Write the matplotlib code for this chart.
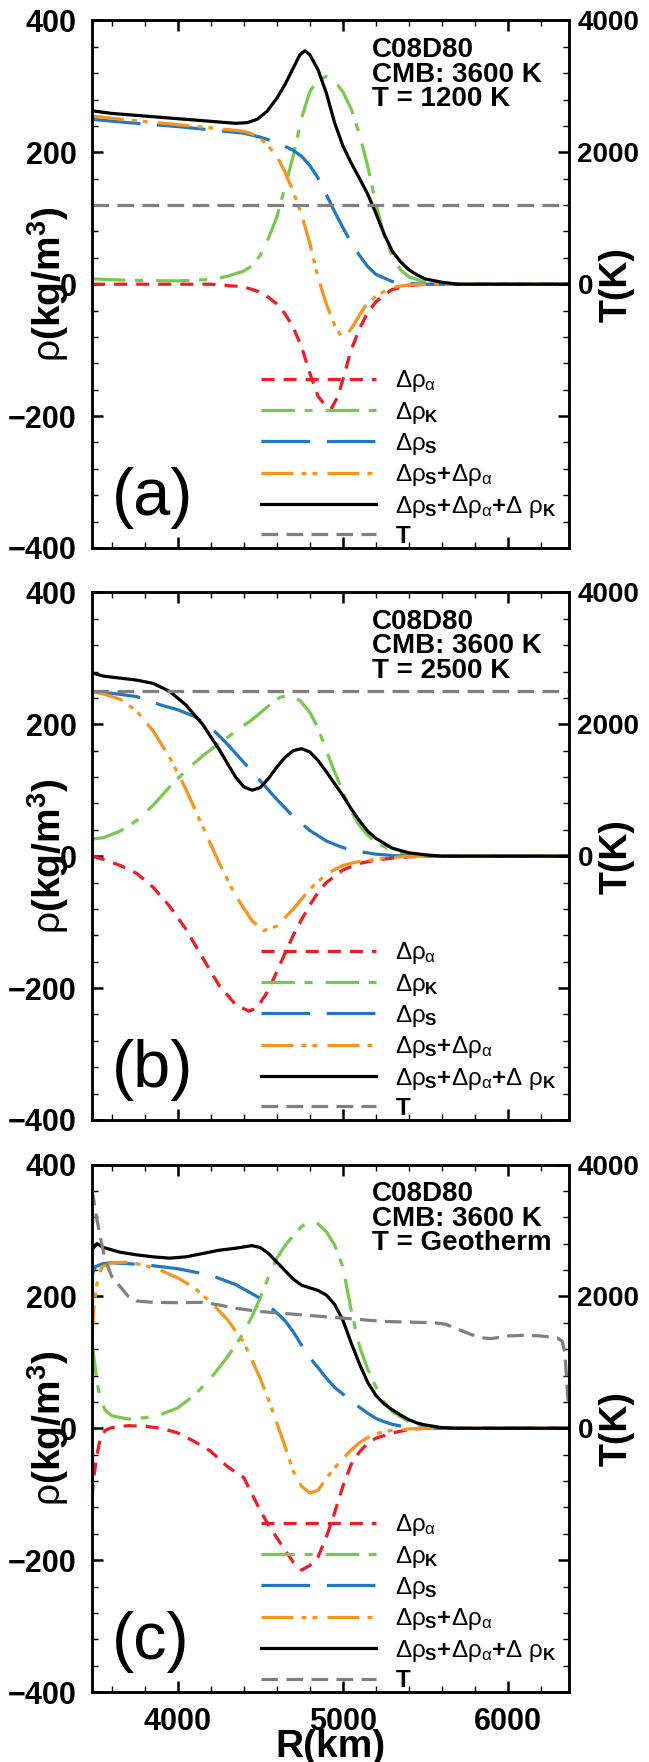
import matplotlib
matplotlib.use("Agg")
import matplotlib.pyplot as plt
from matplotlib.ticker import MultipleLocator

plt.rcParams['font.family'] = ['Liberation Sans', 'DejaVu Sans']
plt.rcParams['font.weight'] = 'bold'
plt.rcParams['mathtext.fontset'] = 'custom'
plt.rcParams['mathtext.rm'] = 'Liberation Sans:weight=normal'
plt.rcParams['mathtext.it'] = 'Liberation Sans:weight=normal'
plt.rcParams['mathtext.bf'] = 'Liberation Sans:weight=bold'
plt.rcParams['lines.scale_dashes'] = False

# ---- data: (R in km, value) ----
# panel (a): T = 1200 K
a_alpha = [(3480, 0), (4200, 0), (4400, -4), (4500, -12), (4550, -20), (4600, -30), (4650, -45),
           (4700, -66), (4750, -95), (4800, -135), (4850, -170), (4900, -186), (4930, -189),
           (4970, -170), (5000, -145), (5050, -100), (5100, -68), (5150, -43), (5200, -27),
           (5250, -16), (5300, -8), (5400, -2), (5500, 0), (6371, 0)]
a_kappa = [(3480, 8), (3700, 6), (4000, 5), (4200, 7), (4300, 12), (4400, 20), (4450, 28),
           (4500, 44), (4550, 70), (4600, 102), (4650, 148), (4700, 195), (4750, 252),
           (4800, 292), (4850, 310), (4900, 315), (4950, 308), (5000, 292), (5050, 266),
           (5100, 228), (5150, 180), (5200, 122), (5250, 75), (5300, 42), (5350, 22),
           (5400, 11), (5500, 3), (5600, 0), (6371, 0)]
a_s = [(3480, 250), (3700, 245), (4000, 239), (4200, 234), (4400, 229), (4500, 223), (4600, 215),
       (4700, 203), (4750, 194), (4800, 180), (4850, 161), (4900, 136), (4950, 110), (5000, 86),
       (5050, 63), (5100, 44), (5150, 27), (5200, 15), (5300, 4), (5400, 1), (5500, 0), (6371, 0)]
a_s_alpha = [(3480, 255), (3700, 249), (4000, 242), (4200, 237), (4400, 232), (4450, 228),
             (4500, 221), (4550, 209), (4600, 194), (4650, 170), (4700, 140), (4750, 105),
             (4800, 62), (4850, 10), (4900, -30), (4950, -62), (4990, -79), (5030, -75),
             (5080, -56), (5130, -35), (5200, -18), (5250, -11), (5300, -5), (5400, -1),
             (5500, 0), (6371, 0)]
a_total = [(3480, 263), (3600, 259), (3800, 255), (4000, 251), (4200, 247), (4350, 244),
           (4420, 245), (4480, 250), (4540, 262), (4600, 282), (4650, 303), (4700, 328),
           (4740, 348), (4770, 354), (4800, 348), (4850, 325), (4900, 290), (4950, 245),
           (5000, 210), (5050, 184), (5100, 161), (5150, 137), (5200, 108), (5250, 76),
           (5300, 50), (5350, 34), (5400, 22), (5450, 14), (5500, 8), (5600, 3), (5700, 0),
           (6371, 0)]
a_temp = [(3480, 1200), (6371, 1200)]

# panel (b): T = 2500 K
b_alpha = [(3480, 0), (3550, -5), (3650, -14), (3750, -26), (3850, -47), (3950, -76),
           (4050, -111), (4150, -154), (4250, -196), (4350, -225), (4430, -235), (4480, -230),
           (4550, -203), (4600, -175), (4650, -147), (4700, -120), (4750, -96), (4800, -74),
           (4850, -55), (4900, -40), (5000, -21), (5100, -11), (5200, -6), (5300, -3),
           (5400, -1), (5500, 0), (6371, 0)]
b_kappa = [(3480, 26), (3550, 28), (3650, 38), (3750, 54), (3850, 77), (3950, 105), (4050, 130),
           (4150, 152), (4250, 171), (4350, 189), (4450, 207), (4550, 228), (4620, 241),
           (4680, 244), (4740, 236), (4800, 218), (4850, 194), (4900, 160), (4950, 128),
           (5000, 98), (5050, 68), (5100, 47), (5150, 32), (5200, 21), (5300, 8), (5400, 2),
           (5500, 0), (6371, 0)]
b_s = [(3480, 249), (3600, 247), (3750, 242), (3900, 229), (4000, 222), (4100, 212), (4200, 195),
       (4300, 170), (4400, 142), (4500, 114), (4600, 86), (4700, 60), (4800, 39), (4900, 23),
       (5000, 13), (5100, 7), (5200, 3), (5300, 1), (5400, 0), (6371, 0)]
b_s_alpha = [(3480, 249), (3550, 246), (3650, 238), (3750, 220), (3850, 190), (3950, 150),
             (4050, 101), (4150, 45), (4250, -10), (4350, -60), (4450, -98), (4520, -113),
             (4600, -106), (4700, -80), (4800, -50), (4900, -27), (5000, -14), (5100, -8),
             (5200, -5), (5300, -2), (5400, 0), (6371, 0)]
b_total = [(3480, 278), (3550, 273), (3650, 270), (3750, 267), (3850, 262), (3950, 250),
           (4050, 229), (4150, 200), (4250, 162), (4350, 120), (4400, 105), (4450, 100),
           (4500, 104), (4550, 118), (4600, 135), (4650, 150), (4700, 160), (4750, 163),
           (4800, 158), (4850, 145), (4900, 128), (4950, 110), (5000, 92), (5050, 72),
           (5100, 54), (5150, 38), (5200, 27), (5300, 12), (5400, 5), (5500, 2), (5600, 0),
           (6371, 0)]
b_temp = [(3480, 2500), (6371, 2500)]

# panel (c): geotherm
c_alpha = [(3480, -105), (3490, -75), (3510, -40), (3530, -15), (3560, -3), (3600, 1), (3700, 4),
           (3800, 3), (3900, 0), (4000, -7), (4100, -20), (4200, -35), (4300, -58), (4400, -75),
           (4450, -100), (4500, -125), (4550, -147), (4600, -166), (4650, -185), (4700, -203),
           (4750, -215), (4800, -208), (4850, -195), (4900, -165), (4950, -128), (5000, -88),
           (5050, -55), (5100, -36), (5150, -23), (5200, -15), (5300, -7), (5400, -2),
           (5500, 0), (6371, 0)]
c_kappa = [(3480, 130), (3495, 100), (3510, 70), (3530, 45), (3560, 27), (3600, 19), (3700, 14),
           (3800, 16), (3900, 21), (4000, 31), (4100, 50), (4200, 76), (4300, 108), (4400, 145),
           (4450, 170), (4500, 198), (4550, 230), (4600, 258), (4650, 277), (4700, 292),
           (4750, 306), (4800, 313), (4850, 310), (4900, 298), (4950, 278), (5000, 245),
           (5050, 180), (5100, 125), (5150, 90), (5200, 63), (5250, 40), (5300, 25),
           (5400, 10), (5500, 3), (5600, 0), (6371, 0)]
c_s = [(3480, 233), (3500, 245), (3550, 250), (3600, 251), (3800, 248), (4000, 242), (4200, 232),
       (4350, 218), (4500, 197), (4600, 175), (4650, 163), (4700, 146), (4750, 126), (4800, 107),
       (4850, 92), (4900, 76), (4950, 62), (5000, 52), (5050, 42), (5100, 32), (5150, 23),
       (5200, 15), (5250, 10), (5300, 6), (5400, 1), (5500, 0), (6371, 0)]
c_s_alpha = [(3480, 138), (3490, 180), (3510, 220), (3540, 245), (3600, 251), (3700, 252),
             (3800, 247), (3900, 239), (4000, 228), (4100, 213), (4200, 191), (4300, 165),
             (4400, 130), (4450, 103), (4500, 75), (4550, 43), (4600, 8), (4650, -28),
             (4700, -65), (4750, -88), (4800, -98), (4850, -94), (4900, -76), (4950, -60),
             (5000, -46), (5050, -33), (5100, -22), (5150, -14), (5200, -8), (5300, -3),
             (5400, -1), (5500, 0), (6371, 0)]
c_total = [(3480, 271), (3510, 280), (3550, 274), (3650, 267), (3750, 263), (3850, 260),
           (3950, 258), (4050, 260), (4150, 265), (4250, 270), (4350, 273), (4450, 277),
           (4500, 274), (4550, 265), (4600, 252), (4650, 239), (4700, 226), (4750, 217),
           (4800, 213), (4850, 209), (4900, 202), (4950, 188), (5000, 164), (5050, 130),
           (5100, 98), (5150, 70), (5200, 50), (5250, 37), (5300, 28), (5350, 20), (5400, 13),
           (5450, 8), (5500, 5), (5600, 1), (5700, 0), (6371, 0)]
c_temp = [(3480, 3630), (3500, 3300), (3530, 2900), (3560, 2550), (3600, 2300), (3650, 2150),
          (3700, 2000), (3750, 1930), (3850, 1910), (4000, 1905), (4150, 1910), (4250, 1870),
          (4350, 1820), (4500, 1770), (4650, 1740), (4800, 1710), (4950, 1680), (5100, 1650),
          (5250, 1620), (5400, 1610), (5550, 1600), (5620, 1580), (5700, 1500), (5780, 1420),
          (5850, 1370), (5900, 1360), (6000, 1400), (6100, 1410), (6200, 1400), (6300, 1370),
          (6330, 1320), (6345, 1150), (6355, 800), (6362, 500), (6371, 300)]

panel_tags = ['(a)', '(b)', '(c)']
panel_notes = ['C08D80\nCMB: 3600 K\nT = 1200 K',
               'C08D80\nCMB: 3600 K\nT = 2500 K',
               'C08D80\nCMB: 3600 K\nT = Geotherm']
panel_data = [(a_alpha, a_kappa, a_s, a_s_alpha, a_total, a_temp),
              (b_alpha, b_kappa, b_s, b_s_alpha, b_total, b_temp),
              (c_alpha, c_kappa, c_s, c_s_alpha, c_total, c_temp)]

labels = [r'$\Delta\rho_{\alpha}$',
          r'$\Delta\rho_{\mathbf{K}}$',
          r'$\Delta\rho_{\mathbf{S}}$',
          r'$\Delta\rho_{\mathbf{S}}\mathbf{+}\Delta\rho_{\alpha}$',
          r'$\Delta\rho_{\mathbf{S}}\mathbf{+}\Delta\rho_{\alpha}\mathbf{+}\Delta\ \rho_{\mathbf{K}}$',
          r'$\mathbf{T}$']
colors = ['#ee1c25', '#78c850', '#1f78c1', '#f7941d', 'black', '#7f7f7f']
dashes = [(9.4, 6.5), (24, 7, 5.8, 9.4), (35, 12), (23, 5.8, 3.6, 4.3, 3.6, 7.2), None, (12, 6)]

fig = plt.figure(figsize=(6.49, 17.62), dpi=100)
bottoms = [0.689, 0.3644, 0.0397]

for i in range(3):
    ax = fig.add_axes([0.1418, bottoms[i], 0.735, 0.2994])
    tx = ax.twinx()
    handles = []
    for j in range(6):
        pts = panel_data[i][j]
        r = [p[0] for p in pts]
        v = [p[1] for p in pts]
        target = tx if j == 5 else ax
        line, = target.plot(r, v, color=colors[j], lw=2.3, label=labels[j])
        if dashes[j] is not None:
            line.set_dashes(dashes[j])
        handles.append(line)

    ax.set_xlim(3480, 6371)
    ax.set_ylim(-400, 400)
    tx.set_ylim(-4000, 4000)
    ax.set_yticks([-400, -200, 0, 200, 400])
    tx.set_yticks([-4000, -2000, 0, 2000, 4000])
    tx.set_yticklabels(['', '', '0', '2000', '4000'])
    ax.set_xticks([4000, 5000, 6000])
    ax.xaxis.set_minor_locator(MultipleLocator(200))
    ax.yaxis.set_minor_locator(MultipleLocator(40))
    tx.yaxis.set_minor_locator(MultipleLocator(400))

    ax.tick_params(which='both', direction='in', top=True, right=False)
    ax.tick_params(which='major', length=8, width=1.8)
    ax.tick_params(which='minor', length=4.5, width=1.0)
    ax.tick_params(axis='y', labelsize=22, pad=11)
    ax.tick_params(axis='x', labelsize=22, pad=11)
    tx.tick_params(which='both', direction='in')
    tx.tick_params(which='major', length=8, width=1.8, labelsize=20, pad=6)
    tx.tick_params(which='minor', length=4.5, width=1.0)
    for sp in ax.spines.values():
        sp.set_linewidth(1.8)
    for sp in tx.spines.values():
        sp.set_linewidth(1.8)

    if i < 2:
        ax.set_xticklabels([])
    else:
        ax.set_xlabel('R(km)', fontsize=28, fontweight='bold', labelpad=-6)

    ax.set_ylabel(r'$\rho$(kg/m$^{\mathbf{3}}$)', fontsize=28, fontweight='bold')
    ax.yaxis.set_label_coords(-0.045, 0.5)
    tx.set_ylabel('T(K)', fontsize=27, fontweight='bold')
    tx.yaxis.set_label_coords(1.063, 0.5)

    ax.text(0.587, 0.968, panel_notes[i], transform=ax.transAxes, fontsize=20,
            ha='left', va='top', linespacing=0.91)
    ax.text(0.042, 0.095, panel_tags[i], transform=ax.transAxes, fontsize=48,
            fontweight='normal', ha='left', va='center')

    tx.legend(handles=handles, loc='lower left', bbox_to_anchor=(0.355, 0.0),
              frameon=False, fontsize=17.5, handlelength=4.73, handletextpad=0.78,
              labelspacing=0.22, borderpad=0, borderaxespad=0)

fig.savefig('out.png', dpi=100)
